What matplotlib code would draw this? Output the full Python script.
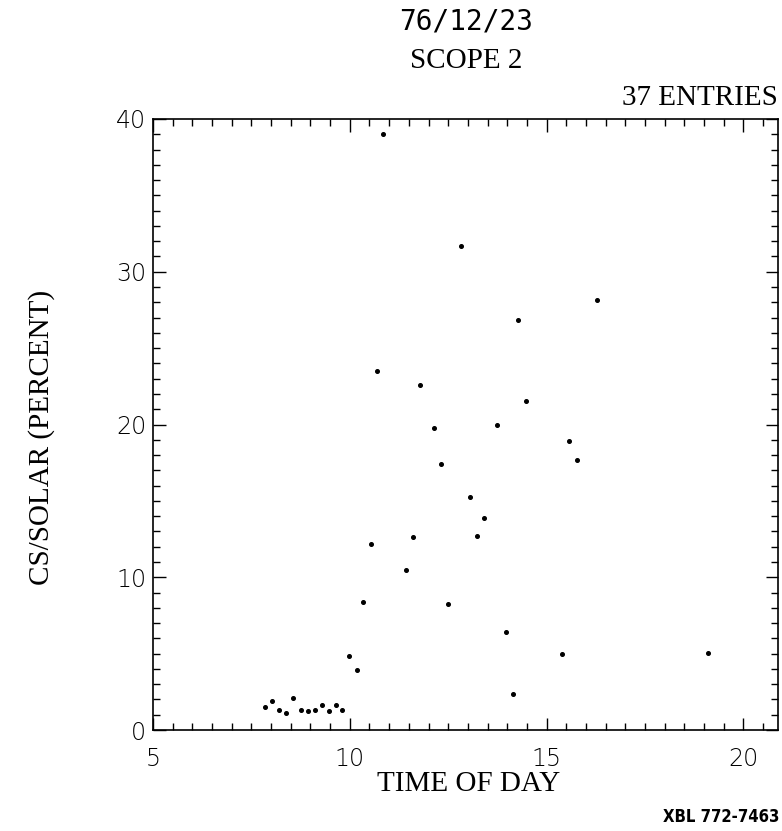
import matplotlib
matplotlib.use("Agg")
import matplotlib.pyplot as plt
from matplotlib.ticker import MultipleLocator

# --- données ---
time_of_day = [7.85, 8.03, 8.20, 8.38, 8.56, 8.75, 8.93, 9.11, 9.29, 9.47,
               9.65, 9.81, 9.99, 10.18, 10.34, 10.53, 10.69, 10.85, 11.42,
               11.61, 11.79, 12.13, 12.31, 12.50, 12.83, 13.05, 13.23, 13.41,
               13.75, 13.96, 14.14, 14.28, 14.48, 15.40, 15.56, 15.76, 16.27,
               19.10]
cs_solar = [1.5, 1.9, 1.3, 1.1, 2.1, 1.3, 1.25, 1.3, 1.65, 1.25,
            1.65, 1.3, 4.85, 3.95, 8.4, 12.2, 23.5, 39.0, 10.5,
            12.65, 22.6, 19.8, 17.4, 8.25, 31.7, 15.25, 12.7, 13.9,
            19.95, 6.4, 2.35, 26.85, 21.55, 5.0, 18.95, 17.65, 28.15,
            5.05]
x_ticks = [5, 10, 15, 20]
y_ticks = [0, 10, 20, 30, 40]

date_text = "76/12/23"
scope_text = "SCOPE 2"
entries_text = "37 ENTRIES"
xlabel_text = "TIME OF DAY"
ylabel_text = "CS/SOLAR (PERCENT)"
ref_text = "XBL 772-7463"

serif = "Liberation Serif"

fig = plt.figure(figsize=(7.82, 8.31), dpi=100)
ax = fig.add_axes([0.1957, 0.1215, 0.7992, 0.7353])

ax.plot(time_of_day, cs_solar, linestyle="none", marker="o",
        markersize=2.6, color="black")

ax.set_xlim(5, 20.88)
ax.set_ylim(0, 40)
ax.set_xticks(x_ticks)
ax.set_yticks(y_ticks)
ax.xaxis.set_minor_locator(MultipleLocator(0.5))
ax.yaxis.set_minor_locator(MultipleLocator(1))

ax.tick_params(which="both", direction="in", top=True, right=True,
               width=1.0, color="black")
ax.tick_params(which="major", length=9)
ax.tick_params(which="minor", length=5)
ax.tick_params(axis="x", which="major", pad=12)
ax.tick_params(axis="y", which="major", pad=5)

for lab in ax.get_xticklabels() + ax.get_yticklabels():
    lab.set_fontfamily("DejaVu Sans")
    lab.set_fontweight("light")
    lab.set_fontsize(17)

for sp in ax.spines.values():
    sp.set_linewidth(1.2)

# textes
fig.text(466 / 782, 1 - 22 / 831, date_text, ha="center", va="center",
         family="DejaVu Sans Mono", fontsize=20)
fig.text(466 / 782, 1 - 61 / 831, scope_text, ha="center", va="center",
         family=serif, fontsize=21)
fig.text(778 / 782, 1 - 98 / 831, entries_text, ha="right", va="center",
         family=serif, fontsize=21)
fig.text(469 / 782, 1 - 784 / 831, xlabel_text, ha="center", va="center",
         family=serif, fontsize=21)
fig.text(42 / 782, 1 - 437 / 831, ylabel_text, ha="center", va="center",
         rotation=90, family=serif, fontsize=21)
fig.text(779 / 782, 1 - 817 / 831, ref_text, ha="right", va="center",
         family="DejaVu Sans", fontstretch="condensed", fontweight="bold",
         fontsize=12)

fig.savefig("out.png", dpi=100)
